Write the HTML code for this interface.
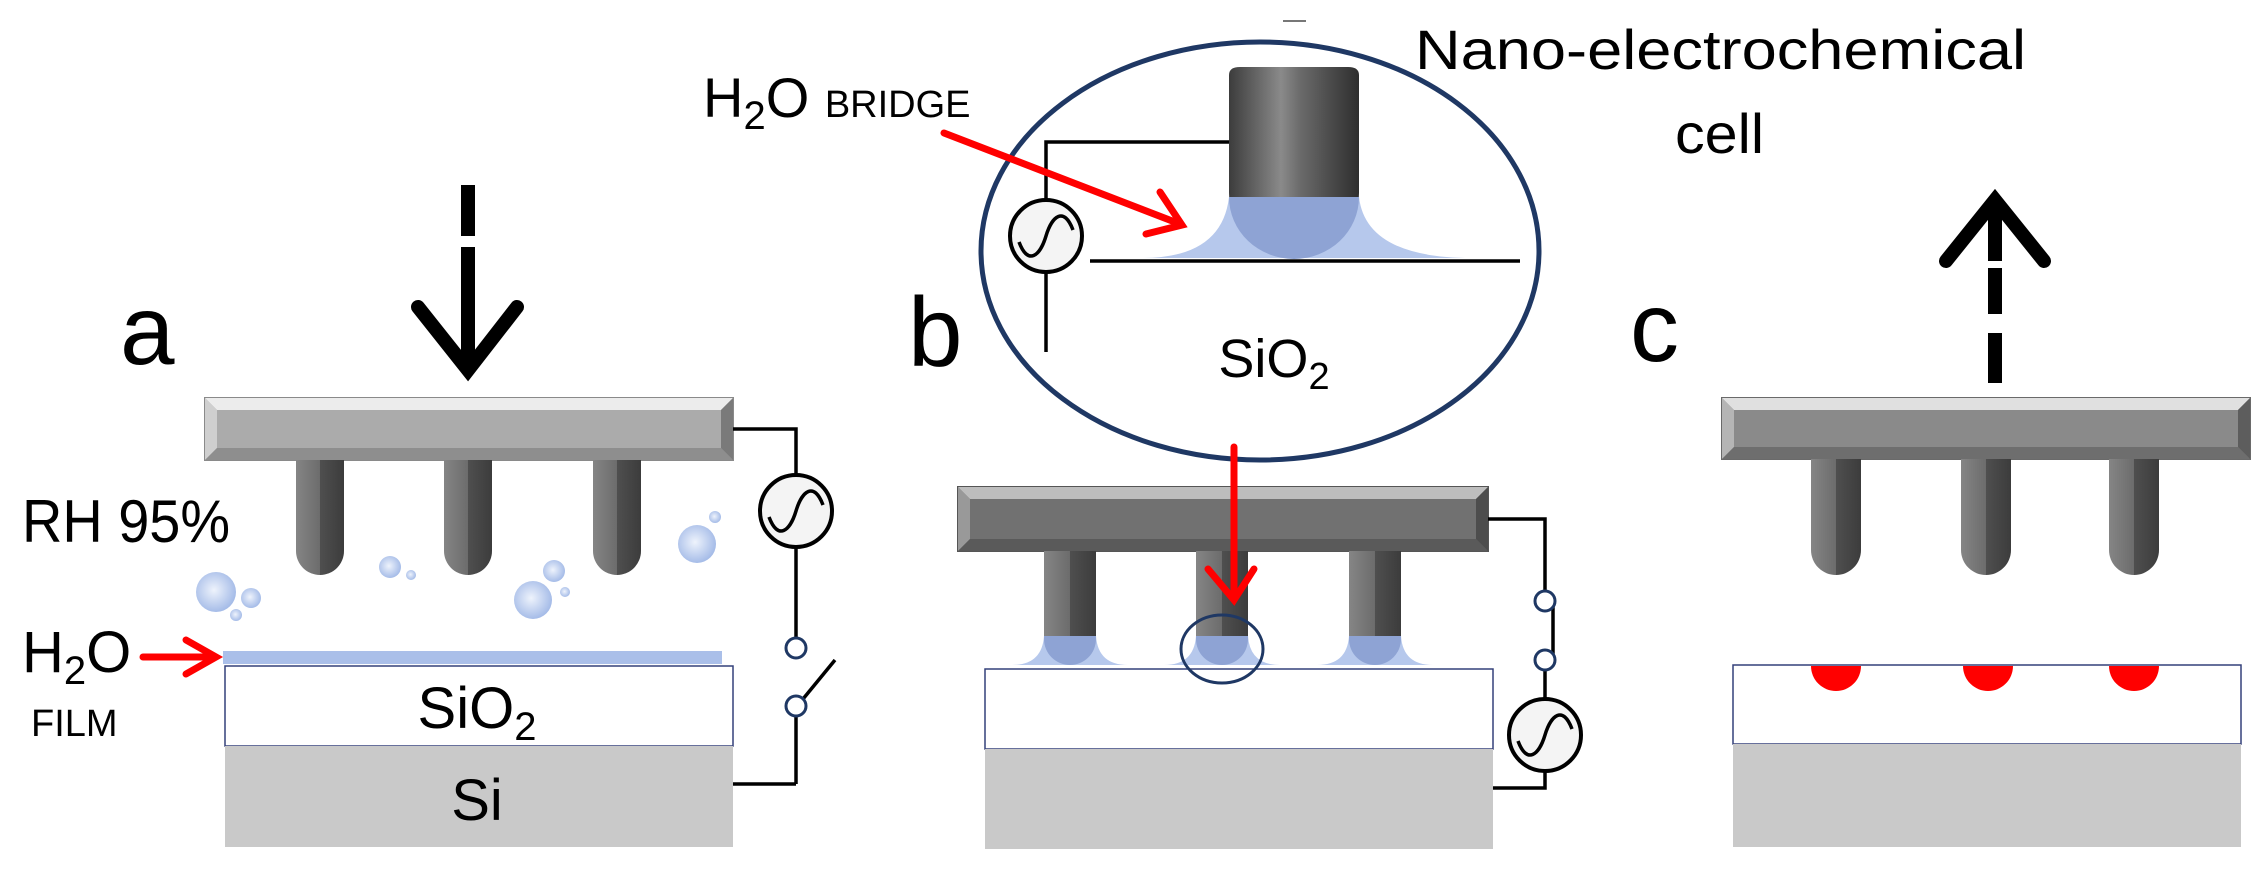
<!DOCTYPE html>
<html><head><meta charset="utf-8"><style>html,body{margin:0;padding:0;background:#fff}svg{display:block}</style></head><body>
<svg width="2264" height="870" viewBox="0 0 2264 870" xmlns="http://www.w3.org/2000/svg" font-family="Liberation Sans, sans-serif">
<defs>
<linearGradient id="pil" x1="0" x2="1" y1="0" y2="0">
<stop offset="0" stop-color="#858585"/><stop offset="0.5" stop-color="#6c6c6c"/><stop offset="0.5" stop-color="#4f4f4f"/><stop offset="1" stop-color="#3c3c3c"/></linearGradient>
<linearGradient id="tip" x1="0" x2="1" y1="0" y2="0">
<stop offset="0" stop-color="#3c3c3c"/><stop offset="0.4" stop-color="#8a8a8a"/><stop offset="0.55" stop-color="#6a6a6a"/><stop offset="1" stop-color="#2e2e2e"/></linearGradient>
<radialGradient id="bub" cx="0.45" cy="0.45" r="0.6"><stop offset="0" stop-color="#eef3fc"/><stop offset="1" stop-color="#9fb7e6"/></radialGradient>
<g id="ac"><circle r="36" fill="#f4f4f4" stroke="#000" stroke-width="4"/><path d="M-27,6 C-18,30 -6,20 0,0 C6,-20 18,-30 27,-6" fill="none" stroke="#000" stroke-width="3.5"/></g>
</defs>

<!-- ================= Panel a ================= -->
<text x="120" y="364" font-size="98">a</text>
<g stroke="#000" stroke-width="14" fill="none">
<line x1="468" y1="185" x2="468" y2="236"/><line x1="468" y1="247" x2="468" y2="368"/>
<polyline points="418,307 468,370 517,307" stroke-linecap="round" stroke-linejoin="miter"/>
</g>
<rect x="205" y="398" width="528" height="62" fill="#ababab" stroke="#8a8a8a" stroke-width="2"/>
<polygon points="205,398 733,398 721,410 217,410" fill="#ececec"/>
<polygon points="205,398 217,410 217,448 205,460" fill="#cfcfcf"/>
<polygon points="205,460 217,448 721,448 733,460" fill="#8e8e8e"/>
<polygon points="733,398 733,460 721,448 721,410" fill="#7a7a7a"/>
<g fill="url(#pil)">
<path d="M296,460 H344 V551 A24,24 0 0 1 296,551 Z"/>
<path d="M444,460 H492 V551 A24,24 0 0 1 444,551 Z"/>
<path d="M593,460 H641 V551 A24,24 0 0 1 593,551 Z"/>
</g>
<text x="22" y="542" font-size="60" textLength="208" lengthAdjust="spacingAndGlyphs">RH 95%</text>
<g fill="url(#bub)">
<circle cx="216" cy="592" r="20"/><circle cx="251" cy="598" r="10"/><circle cx="236" cy="615" r="6"/>
<circle cx="390" cy="567" r="11"/><circle cx="411" cy="575" r="5"/>
<circle cx="533" cy="600" r="19"/><circle cx="554" cy="571" r="11"/><circle cx="565" cy="592" r="5"/>
<circle cx="697" cy="544" r="19"/><circle cx="715" cy="517" r="6"/>
</g>
<text x="22" y="672" font-size="58">H<tspan font-size="40" dy="12">2</tspan><tspan dy="-12">O</tspan></text>
<text x="31" y="736" font-size="38">FILM</text>
<g stroke="#f00" stroke-width="7" fill="none" stroke-linecap="round"><line x1="143" y1="657" x2="214" y2="657"/><polyline points="186,640 216,657 186,674"/></g>
<rect x="223" y="651" width="499" height="13" fill="#aabfe9"/>
<rect x="225" y="666" width="508" height="80" fill="#fff" stroke="#34407a" stroke-width="1.5"/>
<text x="477" y="728" font-size="58" text-anchor="middle">SiO<tspan font-size="40" dy="12">2</tspan></text>
<rect x="225" y="746" width="508" height="101" fill="#c9c9c9"/>
<text x="477" y="820" font-size="58" text-anchor="middle">Si</text>
<g stroke="#000" stroke-width="3.5" fill="none">
<polyline points="733,429 796,429 796,475"/>
<line x1="796" y1="547" x2="796" y2="638"/>
<line x1="796" y1="716" x2="796" y2="784"/><line x1="796" y1="784" x2="733" y2="784"/>
<line x1="803" y1="699" x2="835" y2="660"/>
</g>
<use href="#ac" x="796" y="511"/>
<g fill="#fff" stroke="#1f3864" stroke-width="3"><circle cx="796" cy="648" r="10"/><circle cx="796" cy="706" r="10"/></g>

<!-- ================= Panel b ================= -->
<text x="908" y="366" font-size="98">b</text>
<line x1="1283" y1="21" x2="1306" y2="21" stroke="#777" stroke-width="2"/>
<ellipse cx="1260" cy="251" rx="279" ry="209" fill="#fff" stroke="#1f3864" stroke-width="5"/>
<path d="M1229,75 Q1229,67 1240,67 H1348 Q1359,67 1359,75 V193 A65,65 0 0 1 1229,193 Z" fill="url(#tip)"/>
<path d="M1142,258 Q1222,258 1229,197 H1359 Q1366,258 1472,258 Z" fill="#b6c8ec"/>
<path d="M1229,197 H1359 A65,62 0 0 1 1229,197 Z" fill="#8ea3d4"/>
<g stroke="#000" stroke-width="3.5" fill="none">
<polyline points="1229,142 1046,142 1046,200"/>
<line x1="1046" y1="272" x2="1046" y2="352"/>
<line x1="1090" y1="261" x2="1520" y2="261"/>
</g>
<use href="#ac" x="1046" y="236"/>
<text x="1274" y="377" font-size="54" text-anchor="middle">SiO<tspan font-size="38" dy="12">2</tspan></text>
<text x="703" y="117" font-size="56">H<tspan font-size="40" dy="12">2</tspan><tspan dy="-12">O </tspan><tspan font-size="38">BRIDGE</tspan></text>
<text x="1415" y="69" font-size="56" textLength="611" lengthAdjust="spacingAndGlyphs">Nano-electrochemical</text>
<text x="1675" y="153" font-size="56" textLength="89" lengthAdjust="spacingAndGlyphs">cell</text>
<g stroke="#f00" stroke-width="7" fill="none" stroke-linecap="round">
<line x1="944" y1="133" x2="1180" y2="224"/><polyline points="1160,192 1182,225 1146,234"/>
</g>
<rect x="958" y="487" width="530" height="64" fill="#717171" stroke="#555" stroke-width="2"/>
<polygon points="958,487 1488,487 1476,499 970,499" fill="#bdbdbd"/>
<polygon points="958,487 970,499 970,539 958,551" fill="#999"/>
<polygon points="958,551 970,539 1476,539 1488,551" fill="#5a5a5a"/>
<polygon points="1488,487 1488,551 1476,539 1476,499" fill="#4d4d4d"/>
<g fill="url(#pil)">
<path d="M1044,551 H1096 V639 A26,26 0 0 1 1044,639 Z"/>
<path d="M1196,551 H1248 V639 A26,26 0 0 1 1196,639 Z"/>
<path d="M1349,551 H1401 V639 A26,26 0 0 1 1349,639 Z"/>
</g>
<g fill="#b6c8ec">
<path d="M1012,665 Q1042,665 1044,636 H1096 Q1098,665 1128,665 Z"/>
<path d="M1164,665 Q1194,665 1196,636 H1248 Q1250,665 1280,665 Z"/>
<path d="M1317,665 Q1347,665 1349,636 H1401 Q1403,665 1433,665 Z"/>
</g>
<g fill="#8ea3d4">
<path d="M1044,636 H1096 V639 A26,26 0 0 1 1044,639 Z"/>
<path d="M1196,636 H1248 V639 A26,26 0 0 1 1196,639 Z"/>
<path d="M1349,636 H1401 V639 A26,26 0 0 1 1349,639 Z"/>
</g>
<rect x="985" y="669" width="508" height="80" fill="#fff" stroke="#34407a" stroke-width="1.5"/>
<rect x="985" y="749" width="508" height="100" fill="#c9c9c9"/>
<ellipse cx="1222" cy="649" rx="41" ry="34" fill="none" stroke="#1f3864" stroke-width="3"/>
<g stroke="#f00" stroke-width="7" fill="none" stroke-linecap="round">
<line x1="1234" y1="447" x2="1234" y2="598"/><polyline points="1208,569 1234,600 1254,569"/>
</g>
<g stroke="#000" stroke-width="3.5" fill="none">
<polyline points="1488,519 1545,519 1545,591"/>
<line x1="1553" y1="601" x2="1553" y2="660"/>
<line x1="1545" y1="670" x2="1545" y2="699"/>
<polyline points="1545,771 1545,788 1493,788"/>
</g>
<g fill="#fff" stroke="#1f3864" stroke-width="3"><circle cx="1545" cy="601" r="10"/><circle cx="1545" cy="660" r="10"/></g>
<use href="#ac" x="1545" y="735"/>

<!-- ================= Panel c ================= -->
<text x="1630" y="361" font-size="98">c</text>
<g stroke="#000" stroke-width="14" fill="none">
<line x1="1995" y1="200" x2="1995" y2="261"/><line x1="1995" y1="268" x2="1995" y2="314"/><line x1="1995" y1="333" x2="1995" y2="383"/>
<polyline points="1946,261 1995,200 2044,261" stroke-linecap="round"/>
</g>
<rect x="1722" y="398" width="528" height="61" fill="#8a8a8a" stroke="#6a6a6a" stroke-width="2"/>
<polygon points="1722,398 2250,398 2238,410 1734,410" fill="#e0e0e0"/>
<polygon points="1722,398 1734,410 1734,447 1722,459" fill="#b5b5b5"/>
<polygon points="1722,459 1734,447 2238,447 2250,459" fill="#6e6e6e"/>
<polygon points="2250,398 2250,459 2238,447 2238,410" fill="#5d5d5d"/>
<g fill="url(#pil)">
<path d="M1811,459 H1861 V550 A25,25 0 0 1 1811,550 Z"/>
<path d="M1961,459 H2011 V550 A25,25 0 0 1 1961,550 Z"/>
<path d="M2109,459 H2159 V550 A25,25 0 0 1 2109,550 Z"/>
</g>
<rect x="1733" y="665" width="508" height="79" fill="#fff" stroke="#34407a" stroke-width="1.5"/>
<rect x="1733" y="744" width="508" height="103" fill="#c9c9c9"/>
<g fill="#f00">
<path d="M1811,666 A25,25 0 0 0 1861,666 Z"/>
<path d="M1963,666 A25,25 0 0 0 2013,666 Z"/>
<path d="M2109,666 A25,25 0 0 0 2159,666 Z"/>
</g>
</svg>
</body></html>
